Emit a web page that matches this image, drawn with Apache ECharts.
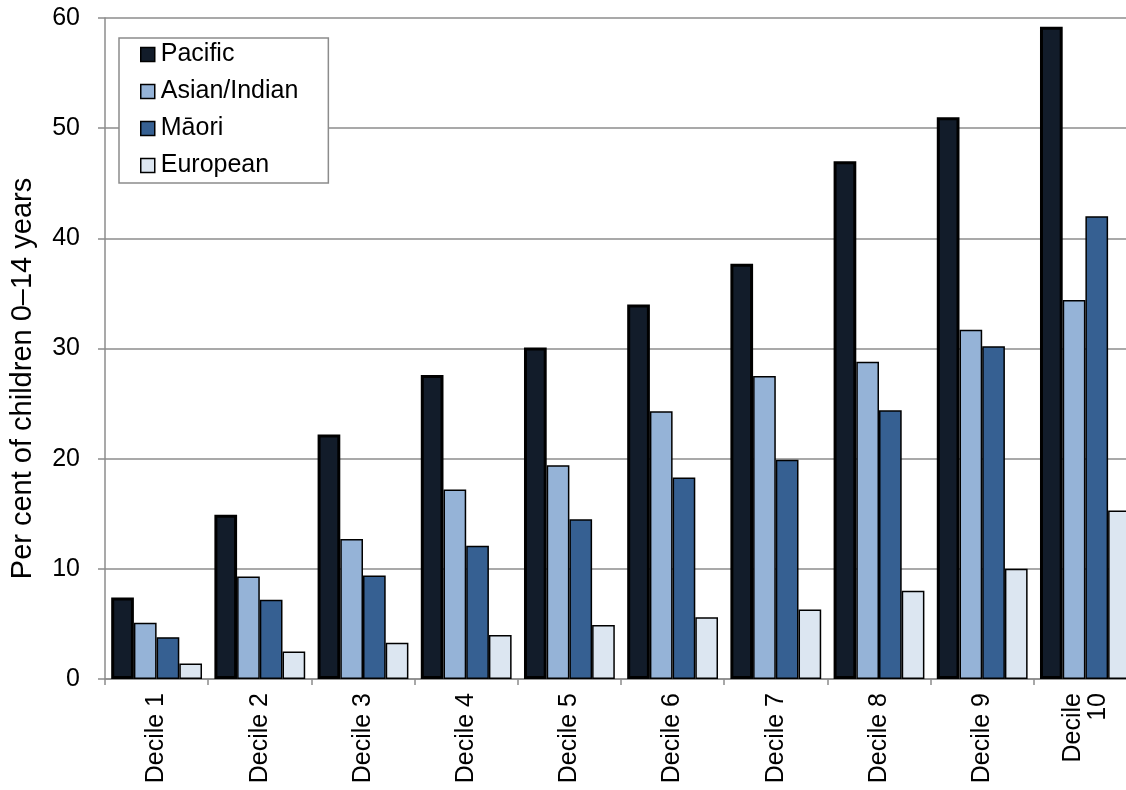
<!DOCTYPE html>
<html>
<head>
<meta charset="utf-8">
<script src="https://cdn.jsdelivr.net/npm/echarts@6/dist/echarts.min.js"></script>
<style>
  html, body { margin: 0; padding: 0; background: #fff; overflow: hidden; width: 1126px; height: 790px; }
  /* the canvas is a little wider than the page so the last decile runs off the right edge */
  #chart { width: 1140px; height: 790px; }
</style>
</head>
<body>
<div id="chart"></div>
<script>
// Deprivation deciles (1 = least deprived, 10 = most deprived)
const deciles = ['Decile 1', 'Decile 2', 'Decile 3', 'Decile 4', 'Decile 5',
                 'Decile 6', 'Decile 7', 'Decile 8', 'Decile 9', 'Decile\n10'];

// Per cent of children 0–14 years, by ethnic group
const pacific  = [7.4, 14.9, 22.2, 27.6, 30.1, 34.0, 37.7, 47.0, 51.0, 59.2];
const asian    = [5.1, 9.3, 12.7, 17.2, 19.4, 24.3, 27.5, 28.8, 31.7, 34.4];
const maori    = [3.8, 7.2, 9.4, 12.1, 14.5, 18.3, 19.9, 24.4, 30.2, 42.0];
const european = [1.4, 2.5, 3.3, 4.0, 4.9, 5.6, 6.3, 8.0, 10.0, 15.3];

const yTicks = [0, 10, 20, 30, 40, 50, 60];

const FONT = '"Liberation Sans", Arial, sans-serif';
const GRID_GREY = '#8c8c8c';

function barSeries(name, data, fill, borderWidth) {
  return {
    name: name,
    type: 'bar',
    data: data,
    barGap: '0%',
    barCategoryGap: '12%',
    itemStyle: { color: fill, borderColor: '#000', borderWidth: borderWidth },
    emphasis: { disabled: true }
  };
}

const chart = echarts.init(document.getElementById('chart'), null, { renderer: 'canvas' });
chart.setOption({
  animation: false,
  backgroundColor: '#fff',
  textStyle: { fontFamily: FONT },
  grid: { left: 101, width: 1036, top: 18, bottom: 111, containLabel: false },
  legend: {
    orient: 'vertical',
    left: 119,
    top: 38,
    padding: [4, 30, 5, 21],
    itemGap: 12,
    itemWidth: 14,
    itemHeight: 14,
    backgroundColor: '#fff',
    borderColor: GRID_GREY,
    borderWidth: 1.5,
    icon: 'rect',
    itemStyle: { borderWidth: 1.5, borderColor: '#000' },
    textStyle: { fontFamily: FONT, fontSize: 25, color: '#000', padding: [0, 0, 0, 1] },
    data: ['Pacific', 'Asian/Indian', 'Māori', 'European']
  },
  xAxis: {
    type: 'category',
    data: deciles,
    axisLine: { show: true, lineStyle: { color: GRID_GREY, width: 1.5 } },
    axisTick: { show: true, interval: 0, length: 6, lineStyle: { color: GRID_GREY, width: 1.5 } },
    axisLabel: {
      interval: 0,
      rotate: 90,
      margin: 14,
      fontFamily: FONT,
      fontSize: 25,
      color: '#000',
      lineHeight: 25
    }
  },
  yAxis: {
    type: 'value',
    min: yTicks[0],
    max: yTicks[yTicks.length - 1],
    interval: 10,
    name: 'Per cent of children 0–14 years',
    nameLocation: 'middle',
    nameRotate: 90,
    nameGap: 68,
    nameTextStyle: { fontFamily: FONT, fontSize: 29, color: '#000', padding: [0, 60, 0, 0] },
    axisLine: { show: true, lineStyle: { color: GRID_GREY, width: 1.5 } },
    axisTick: { show: true, inside: false, length: 7, lineStyle: { color: GRID_GREY, width: 1.5 } },
    axisLabel: { margin: 25, fontFamily: FONT, fontSize: 25, color: '#000' },
    splitLine: { show: true, lineStyle: { color: GRID_GREY, width: 1.5 } }
  },
  series: [
    barSeries('Pacific', pacific, '#121c2a', 3),
    barSeries('Asian/Indian', asian, '#95b3d7', 1.5),
    barSeries('Māori', maori, '#366092', 1.5),
    barSeries('European', european, '#dce6f1', 1.5)
  ]
});
</script>
</body>
</html>
